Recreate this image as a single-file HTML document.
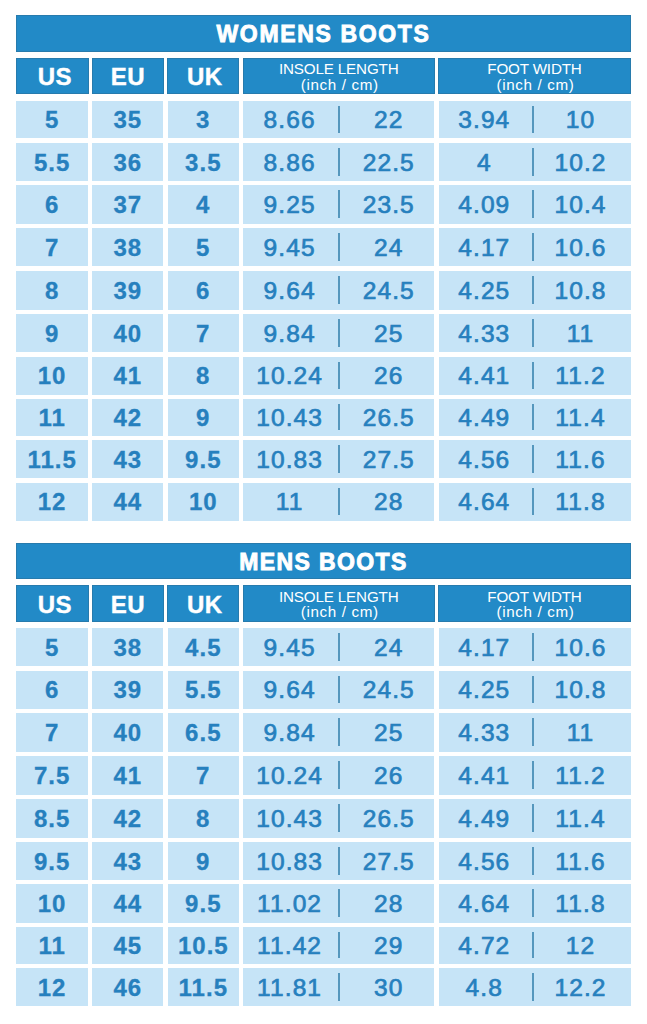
<!DOCTYPE html>
<html><head><meta charset="utf-8">
<style>
html,body{margin:0;padding:0;background:#fff;width:647px;height:1024px;overflow:hidden;position:relative;font-family:"Liberation Sans",sans-serif}
.b{position:absolute}
.bb{box-shadow:inset 0 0 0 1px rgba(50,95,125,0.35)}
.t{position:absolute;width:200px;text-align:center;white-space:nowrap}
.title{position:absolute;left:16px;width:615px;text-align:center;color:#fff;font-weight:bold;font-size:23px;letter-spacing:1.45px;-webkit-text-stroke:0.9px #fff;padding-top:1px;box-sizing:border-box}
.hb{color:#fff;font-weight:bold;font-size:24px;height:0;line-height:0;letter-spacing:0.5px;-webkit-text-stroke:0.4px #fff}
.hs{color:#fff;font-size:15.2px;line-height:15px;display:flex;align-items:center;justify-content:center;flex-direction:column;text-align:center}
.hs .l1{letter-spacing:-0.15px;position:relative;left:-0.1px;top:0.2px}
.hs .l2{letter-spacing:0.65px;position:relative;top:0.6px;left:0.9px}
.db{color:#2680be;font-weight:bold;font-size:24px;height:0;line-height:0;letter-spacing:1px;-webkit-text-stroke:0.3px #2680be}
.dr{color:#2680be;font-size:24.5px;height:0;line-height:0;letter-spacing:1.1px;-webkit-text-stroke:0.7px #2680be}
</style></head><body>
<div class="b bb" style="left:16.1px;top:15.0px;width:614.9px;height:36.6px;background:#228ac7"></div><div class="title" style="top:15.0px;height:36.6px;line-height:36.6px;letter-spacing:1.65px">WOMENS BOOTS</div><div class="b bb" style="left:16.1px;top:57.7px;width:72.5px;height:36.8px;background:#228ac7"></div><div class="b bb" style="left:91.8px;top:57.7px;width:72.1px;height:36.8px;background:#228ac7"></div><div class="b bb" style="left:167.1px;top:57.7px;width:72.4px;height:36.8px;background:#228ac7"></div><div class="b bb" style="left:242.7px;top:57.7px;width:192.2px;height:36.8px;background:#228ac7"></div><div class="b bb" style="left:438.1px;top:57.7px;width:192.9px;height:36.8px;background:#228ac7"></div><div class="t hb" style="left:-45.15px;top:77.0px">US</div><div class="t hb" style="left:27.85px;top:77.0px">EU</div><div class="t hb" style="left:104.8px;top:77.0px">UK</div><div class="t hs" style="left:238.8px;top:57.7px;height:36.8px"><span class="l1">INSOLE LENGTH</span><span class="l2">(inch / cm)</span></div><div class="t hs" style="left:434.55px;top:57.7px;height:36.8px"><span class="l1">FOOT WIDTH</span><span class="l2">(inch / cm)</span></div><div class="b" style="left:16.1px;top:100.6px;width:72.0px;height:37.85px;background:#c6e4f7"></div><div class="b" style="left:92.3px;top:100.6px;width:71.1px;height:37.85px;background:#c6e4f7"></div><div class="b" style="left:167.6px;top:100.6px;width:71.4px;height:37.85px;background:#c6e4f7"></div><div class="b" style="left:243.2px;top:100.6px;width:191.2px;height:37.85px;background:#c6e4f7"></div><div class="b" style="left:438.6px;top:100.6px;width:192.4px;height:37.85px;background:#c6e4f7"></div><div class="t db" style="left:-47.9px;top:120.12px">5</div><div class="t db" style="left:27.85px;top:120.12px">35</div><div class="t db" style="left:103.3px;top:120.12px">3</div><div class="b" style="left:338.1px;top:105.6px;width:1.8px;height:27.45px;background:#5597bd"></div><div class="t dr" style="left:189.6px;top:120.12px">8.66</div><div class="t dr" style="left:288.8px;top:120.12px">22</div><div class="b" style="left:532.1px;top:105.6px;width:1.8px;height:27.45px;background:#5597bd"></div><div class="t dr" style="left:384.3px;top:120.12px">3.94</div><div class="t dr" style="left:480.5px;top:120.12px">10</div><div class="b" style="left:16.1px;top:142.75px;width:72.0px;height:38.35px;background:#c6e4f7"></div><div class="b" style="left:92.3px;top:142.75px;width:71.1px;height:38.35px;background:#c6e4f7"></div><div class="b" style="left:167.6px;top:142.75px;width:71.4px;height:38.35px;background:#c6e4f7"></div><div class="b" style="left:243.2px;top:142.75px;width:191.2px;height:38.35px;background:#c6e4f7"></div><div class="b" style="left:438.6px;top:142.75px;width:192.4px;height:38.35px;background:#c6e4f7"></div><div class="t db" style="left:-47.9px;top:162.53px">5.5</div><div class="t db" style="left:27.85px;top:162.53px">36</div><div class="t db" style="left:103.3px;top:162.53px">3.5</div><div class="b" style="left:338.1px;top:147.75px;width:1.8px;height:27.95px;background:#5597bd"></div><div class="t dr" style="left:189.6px;top:162.53px">8.86</div><div class="t dr" style="left:288.8px;top:162.53px">22.5</div><div class="b" style="left:532.1px;top:147.75px;width:1.8px;height:27.95px;background:#5597bd"></div><div class="t dr" style="left:384.3px;top:162.53px">4</div><div class="t dr" style="left:480.5px;top:162.53px">10.2</div><div class="b" style="left:16.1px;top:185.4px;width:72.0px;height:38.5px;background:#c6e4f7"></div><div class="b" style="left:92.3px;top:185.4px;width:71.1px;height:38.5px;background:#c6e4f7"></div><div class="b" style="left:167.6px;top:185.4px;width:71.4px;height:38.5px;background:#c6e4f7"></div><div class="b" style="left:243.2px;top:185.4px;width:191.2px;height:38.5px;background:#c6e4f7"></div><div class="b" style="left:438.6px;top:185.4px;width:192.4px;height:38.5px;background:#c6e4f7"></div><div class="t db" style="left:-47.9px;top:205.25px">6</div><div class="t db" style="left:27.85px;top:205.25px">37</div><div class="t db" style="left:103.3px;top:205.25px">4</div><div class="b" style="left:338.1px;top:190.4px;width:1.8px;height:28.1px;background:#5597bd"></div><div class="t dr" style="left:189.6px;top:205.25px">9.25</div><div class="t dr" style="left:288.8px;top:205.25px">23.5</div><div class="b" style="left:532.1px;top:190.4px;width:1.8px;height:28.1px;background:#5597bd"></div><div class="t dr" style="left:384.3px;top:205.25px">4.09</div><div class="t dr" style="left:480.5px;top:205.25px">10.4</div><div class="b" style="left:16.1px;top:228.2px;width:72.0px;height:38.3px;background:#c6e4f7"></div><div class="b" style="left:92.3px;top:228.2px;width:71.1px;height:38.3px;background:#c6e4f7"></div><div class="b" style="left:167.6px;top:228.2px;width:71.4px;height:38.3px;background:#c6e4f7"></div><div class="b" style="left:243.2px;top:228.2px;width:191.2px;height:38.3px;background:#c6e4f7"></div><div class="b" style="left:438.6px;top:228.2px;width:192.4px;height:38.3px;background:#c6e4f7"></div><div class="t db" style="left:-47.9px;top:247.95px">7</div><div class="t db" style="left:27.85px;top:247.95px">38</div><div class="t db" style="left:103.3px;top:247.95px">5</div><div class="b" style="left:338.1px;top:233.2px;width:1.8px;height:27.9px;background:#5597bd"></div><div class="t dr" style="left:189.6px;top:247.95px">9.45</div><div class="t dr" style="left:288.8px;top:247.95px">24</div><div class="b" style="left:532.1px;top:233.2px;width:1.8px;height:27.9px;background:#5597bd"></div><div class="t dr" style="left:384.3px;top:247.95px">4.17</div><div class="t dr" style="left:480.5px;top:247.95px">10.6</div><div class="b" style="left:16.1px;top:270.8px;width:72.0px;height:38.95px;background:#c6e4f7"></div><div class="b" style="left:92.3px;top:270.8px;width:71.1px;height:38.95px;background:#c6e4f7"></div><div class="b" style="left:167.6px;top:270.8px;width:71.4px;height:38.95px;background:#c6e4f7"></div><div class="b" style="left:243.2px;top:270.8px;width:191.2px;height:38.95px;background:#c6e4f7"></div><div class="b" style="left:438.6px;top:270.8px;width:192.4px;height:38.95px;background:#c6e4f7"></div><div class="t db" style="left:-47.9px;top:290.88px">8</div><div class="t db" style="left:27.85px;top:290.88px">39</div><div class="t db" style="left:103.3px;top:290.88px">6</div><div class="b" style="left:338.1px;top:275.8px;width:1.8px;height:28.55px;background:#5597bd"></div><div class="t dr" style="left:189.6px;top:290.88px">9.64</div><div class="t dr" style="left:288.8px;top:290.88px">24.5</div><div class="b" style="left:532.1px;top:275.8px;width:1.8px;height:28.55px;background:#5597bd"></div><div class="t dr" style="left:384.3px;top:290.88px">4.25</div><div class="t dr" style="left:480.5px;top:290.88px">10.8</div><div class="b" style="left:16.1px;top:314.05px;width:72.0px;height:38.3px;background:#c6e4f7"></div><div class="b" style="left:92.3px;top:314.05px;width:71.1px;height:38.3px;background:#c6e4f7"></div><div class="b" style="left:167.6px;top:314.05px;width:71.4px;height:38.3px;background:#c6e4f7"></div><div class="b" style="left:243.2px;top:314.05px;width:191.2px;height:38.3px;background:#c6e4f7"></div><div class="b" style="left:438.6px;top:314.05px;width:192.4px;height:38.3px;background:#c6e4f7"></div><div class="t db" style="left:-47.9px;top:333.8px">9</div><div class="t db" style="left:27.85px;top:333.8px">40</div><div class="t db" style="left:103.3px;top:333.8px">7</div><div class="b" style="left:338.1px;top:319.05px;width:1.8px;height:27.9px;background:#5597bd"></div><div class="t dr" style="left:189.6px;top:333.8px">9.84</div><div class="t dr" style="left:288.8px;top:333.8px">25</div><div class="b" style="left:532.1px;top:319.05px;width:1.8px;height:27.9px;background:#5597bd"></div><div class="t dr" style="left:384.3px;top:333.8px">4.33</div><div class="t dr" style="left:480.5px;top:333.8px">11</div><div class="b" style="left:16.1px;top:356.65px;width:72.0px;height:38.1px;background:#c6e4f7"></div><div class="b" style="left:92.3px;top:356.65px;width:71.1px;height:38.1px;background:#c6e4f7"></div><div class="b" style="left:167.6px;top:356.65px;width:71.4px;height:38.1px;background:#c6e4f7"></div><div class="b" style="left:243.2px;top:356.65px;width:191.2px;height:38.1px;background:#c6e4f7"></div><div class="b" style="left:438.6px;top:356.65px;width:192.4px;height:38.1px;background:#c6e4f7"></div><div class="t db" style="left:-47.9px;top:376.3px">10</div><div class="t db" style="left:27.85px;top:376.3px">41</div><div class="t db" style="left:103.3px;top:376.3px">8</div><div class="b" style="left:338.1px;top:361.65px;width:1.8px;height:27.7px;background:#5597bd"></div><div class="t dr" style="left:189.6px;top:376.3px">10.24</div><div class="t dr" style="left:288.8px;top:376.3px">26</div><div class="b" style="left:532.1px;top:361.65px;width:1.8px;height:27.7px;background:#5597bd"></div><div class="t dr" style="left:384.3px;top:376.3px">4.41</div><div class="t dr" style="left:480.5px;top:376.3px">11.2</div><div class="b" style="left:16.1px;top:399.05px;width:72.0px;height:36.7px;background:#c6e4f7"></div><div class="b" style="left:92.3px;top:399.05px;width:71.1px;height:36.7px;background:#c6e4f7"></div><div class="b" style="left:167.6px;top:399.05px;width:71.4px;height:36.7px;background:#c6e4f7"></div><div class="b" style="left:243.2px;top:399.05px;width:191.2px;height:36.7px;background:#c6e4f7"></div><div class="b" style="left:438.6px;top:399.05px;width:192.4px;height:36.7px;background:#c6e4f7"></div><div class="t db" style="left:-47.9px;top:418.0px">11</div><div class="t db" style="left:27.85px;top:418.0px">42</div><div class="t db" style="left:103.3px;top:418.0px">9</div><div class="b" style="left:338.1px;top:404.05px;width:1.8px;height:26.3px;background:#5597bd"></div><div class="t dr" style="left:189.6px;top:418.0px">10.43</div><div class="t dr" style="left:288.8px;top:418.0px">26.5</div><div class="b" style="left:532.1px;top:404.05px;width:1.8px;height:26.3px;background:#5597bd"></div><div class="t dr" style="left:384.3px;top:418.0px">4.49</div><div class="t dr" style="left:480.5px;top:418.0px">11.4</div><div class="b" style="left:16.1px;top:440.05px;width:72.0px;height:38.25px;background:#c6e4f7"></div><div class="b" style="left:92.3px;top:440.05px;width:71.1px;height:38.25px;background:#c6e4f7"></div><div class="b" style="left:167.6px;top:440.05px;width:71.4px;height:38.25px;background:#c6e4f7"></div><div class="b" style="left:243.2px;top:440.05px;width:191.2px;height:38.25px;background:#c6e4f7"></div><div class="b" style="left:438.6px;top:440.05px;width:192.4px;height:38.25px;background:#c6e4f7"></div><div class="t db" style="left:-47.9px;top:459.77px">11.5</div><div class="t db" style="left:27.85px;top:459.77px">43</div><div class="t db" style="left:103.3px;top:459.77px">9.5</div><div class="b" style="left:338.1px;top:445.05px;width:1.8px;height:27.85px;background:#5597bd"></div><div class="t dr" style="left:189.6px;top:459.77px">10.83</div><div class="t dr" style="left:288.8px;top:459.77px">27.5</div><div class="b" style="left:532.1px;top:445.05px;width:1.8px;height:27.85px;background:#5597bd"></div><div class="t dr" style="left:384.3px;top:459.77px">4.56</div><div class="t dr" style="left:480.5px;top:459.77px">11.6</div><div class="b" style="left:16.1px;top:482.6px;width:72.0px;height:38.2px;background:#c6e4f7"></div><div class="b" style="left:92.3px;top:482.6px;width:71.1px;height:38.2px;background:#c6e4f7"></div><div class="b" style="left:167.6px;top:482.6px;width:71.4px;height:38.2px;background:#c6e4f7"></div><div class="b" style="left:243.2px;top:482.6px;width:191.2px;height:38.2px;background:#c6e4f7"></div><div class="b" style="left:438.6px;top:482.6px;width:192.4px;height:38.2px;background:#c6e4f7"></div><div class="t db" style="left:-47.9px;top:502.3px">12</div><div class="t db" style="left:27.85px;top:502.3px">44</div><div class="t db" style="left:103.3px;top:502.3px">10</div><div class="b" style="left:338.1px;top:487.6px;width:1.8px;height:27.8px;background:#5597bd"></div><div class="t dr" style="left:189.6px;top:502.3px">11</div><div class="t dr" style="left:288.8px;top:502.3px">28</div><div class="b" style="left:532.1px;top:487.6px;width:1.8px;height:27.8px;background:#5597bd"></div><div class="t dr" style="left:384.3px;top:502.3px">4.64</div><div class="t dr" style="left:480.5px;top:502.3px">11.8</div><div class="b bb" style="left:16.1px;top:543.2px;width:614.9px;height:36.3px;background:#228ac7"></div><div class="title" style="top:543.2px;height:36.3px;line-height:36.3px;letter-spacing:1.4px">MENS BOOTS</div><div class="b bb" style="left:16.1px;top:585.2px;width:72.5px;height:37.1px;background:#228ac7"></div><div class="b bb" style="left:91.8px;top:585.2px;width:72.1px;height:37.1px;background:#228ac7"></div><div class="b bb" style="left:167.1px;top:585.2px;width:72.4px;height:37.1px;background:#228ac7"></div><div class="b bb" style="left:242.7px;top:585.2px;width:192.2px;height:37.1px;background:#228ac7"></div><div class="b bb" style="left:438.1px;top:585.2px;width:192.9px;height:37.1px;background:#228ac7"></div><div class="t hb" style="left:-45.15px;top:604.65px">US</div><div class="t hb" style="left:27.85px;top:604.65px">EU</div><div class="t hb" style="left:104.8px;top:604.65px">UK</div><div class="t hs" style="left:238.8px;top:585.2px;height:37.1px"><span class="l1">INSOLE LENGTH</span><span class="l2">(inch / cm)</span></div><div class="t hs" style="left:434.55px;top:585.2px;height:37.1px"><span class="l1">FOOT WIDTH</span><span class="l2">(inch / cm)</span></div><div class="b" style="left:16.1px;top:628.3px;width:72.0px;height:38.15px;background:#c6e4f7"></div><div class="b" style="left:92.3px;top:628.3px;width:71.1px;height:38.15px;background:#c6e4f7"></div><div class="b" style="left:167.6px;top:628.3px;width:71.4px;height:38.15px;background:#c6e4f7"></div><div class="b" style="left:243.2px;top:628.3px;width:191.2px;height:38.15px;background:#c6e4f7"></div><div class="b" style="left:438.6px;top:628.3px;width:192.4px;height:38.15px;background:#c6e4f7"></div><div class="t db" style="left:-47.9px;top:647.98px">5</div><div class="t db" style="left:27.85px;top:647.98px">38</div><div class="t db" style="left:103.3px;top:647.98px">4.5</div><div class="b" style="left:338.1px;top:633.3px;width:1.8px;height:27.75px;background:#5597bd"></div><div class="t dr" style="left:189.6px;top:647.98px">9.45</div><div class="t dr" style="left:288.8px;top:647.98px">24</div><div class="b" style="left:532.1px;top:633.3px;width:1.8px;height:27.75px;background:#5597bd"></div><div class="t dr" style="left:384.3px;top:647.98px">4.17</div><div class="t dr" style="left:480.5px;top:647.98px">10.6</div><div class="b" style="left:16.1px;top:670.75px;width:72.0px;height:38.0px;background:#c6e4f7"></div><div class="b" style="left:92.3px;top:670.75px;width:71.1px;height:38.0px;background:#c6e4f7"></div><div class="b" style="left:167.6px;top:670.75px;width:71.4px;height:38.0px;background:#c6e4f7"></div><div class="b" style="left:243.2px;top:670.75px;width:191.2px;height:38.0px;background:#c6e4f7"></div><div class="b" style="left:438.6px;top:670.75px;width:192.4px;height:38.0px;background:#c6e4f7"></div><div class="t db" style="left:-47.9px;top:690.35px">6</div><div class="t db" style="left:27.85px;top:690.35px">39</div><div class="t db" style="left:103.3px;top:690.35px">5.5</div><div class="b" style="left:338.1px;top:675.75px;width:1.8px;height:27.6px;background:#5597bd"></div><div class="t dr" style="left:189.6px;top:690.35px">9.64</div><div class="t dr" style="left:288.8px;top:690.35px">24.5</div><div class="b" style="left:532.1px;top:675.75px;width:1.8px;height:27.6px;background:#5597bd"></div><div class="t dr" style="left:384.3px;top:690.35px">4.25</div><div class="t dr" style="left:480.5px;top:690.35px">10.8</div><div class="b" style="left:16.1px;top:713.05px;width:72.0px;height:38.75px;background:#c6e4f7"></div><div class="b" style="left:92.3px;top:713.05px;width:71.1px;height:38.75px;background:#c6e4f7"></div><div class="b" style="left:167.6px;top:713.05px;width:71.4px;height:38.75px;background:#c6e4f7"></div><div class="b" style="left:243.2px;top:713.05px;width:191.2px;height:38.75px;background:#c6e4f7"></div><div class="b" style="left:438.6px;top:713.05px;width:192.4px;height:38.75px;background:#c6e4f7"></div><div class="t db" style="left:-47.9px;top:733.02px">7</div><div class="t db" style="left:27.85px;top:733.02px">40</div><div class="t db" style="left:103.3px;top:733.02px">6.5</div><div class="b" style="left:338.1px;top:718.05px;width:1.8px;height:28.35px;background:#5597bd"></div><div class="t dr" style="left:189.6px;top:733.02px">9.84</div><div class="t dr" style="left:288.8px;top:733.02px">25</div><div class="b" style="left:532.1px;top:718.05px;width:1.8px;height:28.35px;background:#5597bd"></div><div class="t dr" style="left:384.3px;top:733.02px">4.33</div><div class="t dr" style="left:480.5px;top:733.02px">11</div><div class="b" style="left:16.1px;top:756.1px;width:72.0px;height:38.45px;background:#c6e4f7"></div><div class="b" style="left:92.3px;top:756.1px;width:71.1px;height:38.45px;background:#c6e4f7"></div><div class="b" style="left:167.6px;top:756.1px;width:71.4px;height:38.45px;background:#c6e4f7"></div><div class="b" style="left:243.2px;top:756.1px;width:191.2px;height:38.45px;background:#c6e4f7"></div><div class="b" style="left:438.6px;top:756.1px;width:192.4px;height:38.45px;background:#c6e4f7"></div><div class="t db" style="left:-47.9px;top:775.93px">7.5</div><div class="t db" style="left:27.85px;top:775.93px">41</div><div class="t db" style="left:103.3px;top:775.93px">7</div><div class="b" style="left:338.1px;top:761.1px;width:1.8px;height:28.05px;background:#5597bd"></div><div class="t dr" style="left:189.6px;top:775.93px">10.24</div><div class="t dr" style="left:288.8px;top:775.93px">26</div><div class="b" style="left:532.1px;top:761.1px;width:1.8px;height:28.05px;background:#5597bd"></div><div class="t dr" style="left:384.3px;top:775.93px">4.41</div><div class="t dr" style="left:480.5px;top:775.93px">11.2</div><div class="b" style="left:16.1px;top:798.85px;width:72.0px;height:38.85px;background:#c6e4f7"></div><div class="b" style="left:92.3px;top:798.85px;width:71.1px;height:38.85px;background:#c6e4f7"></div><div class="b" style="left:167.6px;top:798.85px;width:71.4px;height:38.85px;background:#c6e4f7"></div><div class="b" style="left:243.2px;top:798.85px;width:191.2px;height:38.85px;background:#c6e4f7"></div><div class="b" style="left:438.6px;top:798.85px;width:192.4px;height:38.85px;background:#c6e4f7"></div><div class="t db" style="left:-47.9px;top:818.88px">8.5</div><div class="t db" style="left:27.85px;top:818.88px">42</div><div class="t db" style="left:103.3px;top:818.88px">8</div><div class="b" style="left:338.1px;top:803.85px;width:1.8px;height:28.45px;background:#5597bd"></div><div class="t dr" style="left:189.6px;top:818.88px">10.43</div><div class="t dr" style="left:288.8px;top:818.88px">26.5</div><div class="b" style="left:532.1px;top:803.85px;width:1.8px;height:28.45px;background:#5597bd"></div><div class="t dr" style="left:384.3px;top:818.88px">4.49</div><div class="t dr" style="left:480.5px;top:818.88px">11.4</div><div class="b" style="left:16.1px;top:842.0px;width:72.0px;height:38.05px;background:#c6e4f7"></div><div class="b" style="left:92.3px;top:842.0px;width:71.1px;height:38.05px;background:#c6e4f7"></div><div class="b" style="left:167.6px;top:842.0px;width:71.4px;height:38.05px;background:#c6e4f7"></div><div class="b" style="left:243.2px;top:842.0px;width:191.2px;height:38.05px;background:#c6e4f7"></div><div class="b" style="left:438.6px;top:842.0px;width:192.4px;height:38.05px;background:#c6e4f7"></div><div class="t db" style="left:-47.9px;top:861.63px">9.5</div><div class="t db" style="left:27.85px;top:861.63px">43</div><div class="t db" style="left:103.3px;top:861.63px">9</div><div class="b" style="left:338.1px;top:847.0px;width:1.8px;height:27.65px;background:#5597bd"></div><div class="t dr" style="left:189.6px;top:861.63px">10.83</div><div class="t dr" style="left:288.8px;top:861.63px">27.5</div><div class="b" style="left:532.1px;top:847.0px;width:1.8px;height:27.65px;background:#5597bd"></div><div class="t dr" style="left:384.3px;top:861.63px">4.56</div><div class="t dr" style="left:480.5px;top:861.63px">11.6</div><div class="b" style="left:16.1px;top:884.35px;width:72.0px;height:38.4px;background:#c6e4f7"></div><div class="b" style="left:92.3px;top:884.35px;width:71.1px;height:38.4px;background:#c6e4f7"></div><div class="b" style="left:167.6px;top:884.35px;width:71.4px;height:38.4px;background:#c6e4f7"></div><div class="b" style="left:243.2px;top:884.35px;width:191.2px;height:38.4px;background:#c6e4f7"></div><div class="b" style="left:438.6px;top:884.35px;width:192.4px;height:38.4px;background:#c6e4f7"></div><div class="t db" style="left:-47.9px;top:904.15px">10</div><div class="t db" style="left:27.85px;top:904.15px">44</div><div class="t db" style="left:103.3px;top:904.15px">9.5</div><div class="b" style="left:338.1px;top:889.35px;width:1.8px;height:28.0px;background:#5597bd"></div><div class="t dr" style="left:189.6px;top:904.15px">11.02</div><div class="t dr" style="left:288.8px;top:904.15px">28</div><div class="b" style="left:532.1px;top:889.35px;width:1.8px;height:28.0px;background:#5597bd"></div><div class="t dr" style="left:384.3px;top:904.15px">4.64</div><div class="t dr" style="left:480.5px;top:904.15px">11.8</div><div class="b" style="left:16.1px;top:927.05px;width:72.0px;height:36.7px;background:#c6e4f7"></div><div class="b" style="left:92.3px;top:927.05px;width:71.1px;height:36.7px;background:#c6e4f7"></div><div class="b" style="left:167.6px;top:927.05px;width:71.4px;height:36.7px;background:#c6e4f7"></div><div class="b" style="left:243.2px;top:927.05px;width:191.2px;height:36.7px;background:#c6e4f7"></div><div class="b" style="left:438.6px;top:927.05px;width:192.4px;height:36.7px;background:#c6e4f7"></div><div class="t db" style="left:-47.9px;top:946.0px">11</div><div class="t db" style="left:27.85px;top:946.0px">45</div><div class="t db" style="left:103.3px;top:946.0px">10.5</div><div class="b" style="left:338.1px;top:932.05px;width:1.8px;height:26.3px;background:#5597bd"></div><div class="t dr" style="left:189.6px;top:946.0px">11.42</div><div class="t dr" style="left:288.8px;top:946.0px">29</div><div class="b" style="left:532.1px;top:932.05px;width:1.8px;height:26.3px;background:#5597bd"></div><div class="t dr" style="left:384.3px;top:946.0px">4.72</div><div class="t dr" style="left:480.5px;top:946.0px">12</div><div class="b" style="left:16.1px;top:968.05px;width:72.0px;height:38.25px;background:#c6e4f7"></div><div class="b" style="left:92.3px;top:968.05px;width:71.1px;height:38.25px;background:#c6e4f7"></div><div class="b" style="left:167.6px;top:968.05px;width:71.4px;height:38.25px;background:#c6e4f7"></div><div class="b" style="left:243.2px;top:968.05px;width:191.2px;height:38.25px;background:#c6e4f7"></div><div class="b" style="left:438.6px;top:968.05px;width:192.4px;height:38.25px;background:#c6e4f7"></div><div class="t db" style="left:-47.9px;top:987.77px">12</div><div class="t db" style="left:27.85px;top:987.77px">46</div><div class="t db" style="left:103.3px;top:987.77px">11.5</div><div class="b" style="left:338.1px;top:973.05px;width:1.8px;height:27.85px;background:#5597bd"></div><div class="t dr" style="left:189.6px;top:987.77px">11.81</div><div class="t dr" style="left:288.8px;top:987.77px">30</div><div class="b" style="left:532.1px;top:973.05px;width:1.8px;height:27.85px;background:#5597bd"></div><div class="t dr" style="left:384.3px;top:987.77px">4.8</div><div class="t dr" style="left:480.5px;top:987.77px">12.2</div>
</body></html>
